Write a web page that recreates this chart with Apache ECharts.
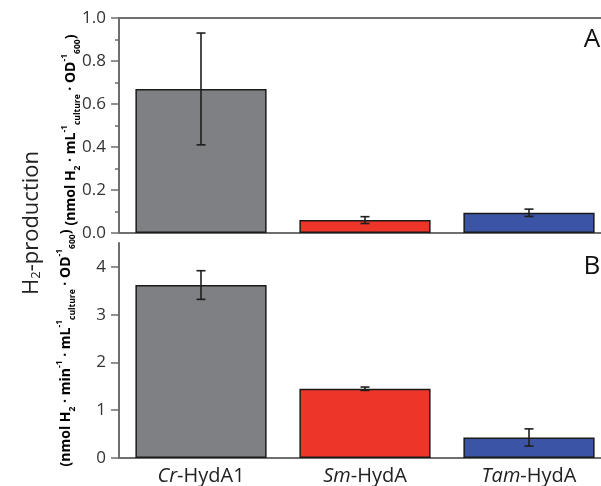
<!DOCTYPE html>
<html>
<head>
<meta charset="utf-8">
<script src="https://cdn.jsdelivr.net/npm/echarts@6/dist/echarts.min.js"></script>
<style>html,body{margin:0;padding:0;background:#fff;overflow:hidden;}#c{width:611px;height:486px;}</style>
</head>
<body>
<div id="c"></div>
<script>
// ---- data ----
var speciesPrefix = ['Cr', 'Sm', 'Tam'];
var speciesSuffix = ['HydA1', 'HydA', 'HydA'];
var categories = ['Cr-HydA1', 'Sm-HydA', 'Tam-HydA'];
var valuesA = [0.67, 0.06, 0.094];
var errorsA = [0.26, 0.016, 0.017];
var valuesB = [3.62, 1.45, 0.43];
var errorsB = [0.30, 0.035, 0.18];
var ticksB = [0, 1, 2, 3, 4];
var minorTicksB = [0.5, 1.5, 2.5, 3.5];
var barColors = ['#7f8084', '#ee3529', '#3b54a5'];

var FONT = '"Open Sans", "Noto Sans", sans-serif';
var AXIS_COLOR = '#6e6e6e';

function barData(vals) {
  return vals.map(function (v, i) {
    return { value: v, itemStyle: { color: barColors[i] } };
  });
}
function errData(vals, errs) {
  return vals.map(function (v, i) { return [i, v, errs[i]]; });
}
function renderErr(params, api) {
  var i = api.value(0), v = api.value(1), e = api.value(2);
  var t = api.coord([i, v + e]);
  var b = api.coord([i, v - e]);
  var hw = 4.5;
  var st = { stroke: '#1e1e1e', lineWidth: 1.6 };
  return {
    type: 'group',
    children: [
      { type: 'line', shape: { x1: t[0], y1: t[1], x2: b[0], y2: b[1] }, style: st },
      { type: 'line', shape: { x1: t[0] - hw, y1: t[1], x2: t[0] + hw, y2: t[1] }, style: st },
      { type: 'line', shape: { x1: b[0] - hw, y1: b[1], x2: b[0] + hw, y2: b[1] }, style: st }
    ]
  };
}

var subSup = {
  m: { fontSize: 14, fontWeight: 'bold', fontFamily: FONT, color: '#222', lineHeight: 22 },
  sub: { fontSize: 8.5, fontWeight: 'bold', fontFamily: FONT, color: '#222', lineHeight: 9, verticalAlign: 'bottom' },
  sup: { fontSize: 8.5, fontWeight: 'bold', fontFamily: FONT, color: '#222', lineHeight: 9, verticalAlign: 'top' }
};

var chart = echarts.init(document.getElementById('c'));
var catAxisBase = {
  type: 'category',
  data: categories,
  axisLine: { lineStyle: { color: AXIS_COLOR, width: 2 } },
  axisTick: { show: false },
  splitLine: { show: false }
};
var option = {
  animation: false,
  backgroundColor: '#fff',
  grid: [
    { left: 119, top: 18, right: 0, height: 215 },
    { left: 119, top: 243, right: 0, height: 215 }
  ],
  xAxis: [
    Object.assign({}, catAxisBase, { gridIndex: 0, position: 'bottom', axisLabel: { show: false } }),
    Object.assign({}, catAxisBase, { gridIndex: 0, position: 'top', axisLabel: { show: false } }),
    Object.assign({}, catAxisBase, {
      gridIndex: 1, position: 'bottom',
      axisLabel: {
        interval: 0,
        hideOverlap: false,
        margin: 8,
        fontSize: 20,
        fontFamily: FONT,
        color: '#222',
        formatter: function (val, idx) {
          return '{i|' + speciesPrefix[idx] + '}-' + speciesSuffix[idx];
        },
        rich: { i: { fontStyle: 'italic', fontSize: 20, fontFamily: FONT, color: '#222' } }
      }
    }),
    Object.assign({}, catAxisBase, { gridIndex: 1, position: 'top', axisLabel: { show: false } })
  ],
  yAxis: [
    {
      type: 'value', gridIndex: 0, min: 0, max: 1, interval: 0.2,
      axisLine: { show: true, lineStyle: { color: AXIS_COLOR, width: 2 } },
      axisTick: { show: true, length: 8, lineStyle: { color: AXIS_COLOR, width: 1.5 } },
      minorTick: { show: true, splitNumber: 2, length: 4, lineStyle: { color: AXIS_COLOR, width: 1.5 } },
      splitLine: { show: false },
      axisLabel: { margin: 13, fontSize: 17, fontFamily: FONT, color: '#333',
        formatter: function (v) { return v.toFixed(1); } }
    },
    {
      type: 'value', gridIndex: 1, min: 0, max: 4.5, interval: 1,
      axisLine: { show: true, lineStyle: { color: AXIS_COLOR, width: 2 } },
      axisTick: { show: true, length: 8, customValues: ticksB, lineStyle: { color: AXIS_COLOR, width: 1.5 } },
      splitLine: { show: false },
      axisLabel: { margin: 13, fontSize: 17, fontFamily: FONT, color: '#333', customValues: ticksB,
        formatter: function (v) { return String(Math.round(v)); } }
    },
    {
      type: 'value', gridIndex: 1, min: 0, max: 4.5, interval: 0.5,
      axisLine: { show: false },
      axisTick: { show: true, length: 4, customValues: minorTicksB, lineStyle: { color: AXIS_COLOR, width: 1.5 } },
      splitLine: { show: false },
      axisLabel: { show: false }
    }
  ],
  series: [
    {
      type: 'bar', xAxisIndex: 0, yAxisIndex: 0, data: barData(valuesA),
      barWidth: '80%',
      itemStyle: { borderColor: '#1a1a1a', borderWidth: 1.5 }
    },
    {
      type: 'custom', xAxisIndex: 0, yAxisIndex: 0, data: errData(valuesA, errorsA),
      renderItem: renderErr, z: 5, encode: { x: 0, y: 1 }
    },
    {
      type: 'bar', xAxisIndex: 2, yAxisIndex: 1, data: barData(valuesB),
      barWidth: '80%',
      itemStyle: { borderColor: '#1a1a1a', borderWidth: 1.5 }
    },
    {
      type: 'custom', xAxisIndex: 2, yAxisIndex: 1, data: errData(valuesB, errorsB),
      renderItem: renderErr, z: 5, encode: { x: 0, y: 1 }
    }
  ],
  graphic: [
    {
      type: 'text', x: 32, y: 223, rotation: Math.PI / 2,
      style: {
        text: 'H{s|2}-production',
        fontSize: 22, fontFamily: FONT, fill: '#222',
        align: 'center', verticalAlign: 'middle',
        rich: {
          s: { fontSize: 13, fontFamily: FONT, color: '#222', lineHeight: 14, verticalAlign: 'bottom' }
        }
      }
    },
    {
      type: 'text', x: 71, y: 130, rotation: Math.PI / 2,
      style: {
        text: '{m|(nmol H}{sub|2}{m| · mL}{sup|-1}{sub|culture}{m| · OD}{sup|-1}{sub|600}{m|)}',
        align: 'center', verticalAlign: 'middle',
        rich: subSup
      }
    },
    {
      type: 'text', x: 66, y: 348, rotation: Math.PI / 2,
      style: {
        text: '{m|(nmol H}{sub|2}{m| · min}{sup|-1}{m| · mL}{sup|-1}{sub|culture}{m| · OD}{sup|-1}{sub|600}{m|)}',
        align: 'center', verticalAlign: 'middle',
        rich: subSup
      }
    },
    {
      type: 'text', x: 592, y: 40,
      style: { text: 'A', fontSize: 26, fontFamily: FONT, fill: '#111', align: 'center', verticalAlign: 'middle' }
    },
    {
      type: 'text', x: 592, y: 267,
      style: { text: 'B', fontSize: 26, fontFamily: FONT, fill: '#111', align: 'center', verticalAlign: 'middle' }
    }
  ]
};
chart.setOption(option);
</script>
</body>
</html>
